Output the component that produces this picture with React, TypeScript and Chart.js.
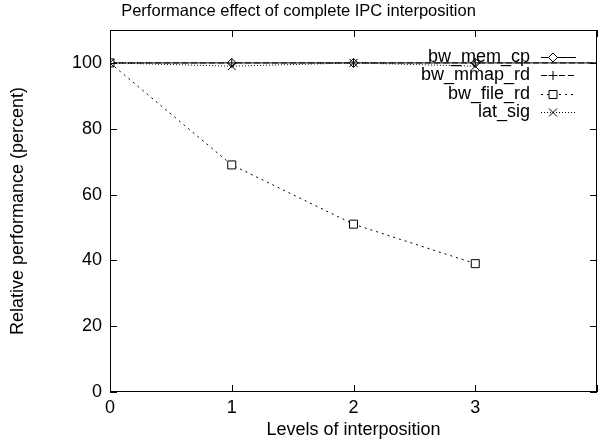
import React, { useEffect, useRef } from "react";
import { Chart, registerables } from "chart.js";

Chart.register(...registerables);

const levels = [0, 1, 2, 3, 4];
const bwMemCp = [100, 100, 100, 100, 100];
const bwMmapRd = [100, 100, 100, 100, 100];
const bwFileRd = [100, 69, 51, 39];
const latSig = [100, 99, 100, 99];
const seriesLabels = ["bw_mem_cp", "bw_mmap_rd", "bw_file_rd", "lat_sig"];
const xTicks = [0, 1, 2, 3];
const yTicks = [0, 20, 40, 60, 80, 100];

const FONT = "'Liberation Sans', Arial, sans-serif";
const FS = 18;
const TFS = 16.5;

type Shape = "diamond" | "plus" | "square" | "cross";
const shapes: Shape[] = ["diamond", "plus", "square", "cross"];
const dashes: number[][] = [[], [6, 3], [2, 4], [1, 2]];

function drawMarker(ctx: CanvasRenderingContext2D, shape: Shape, x: number, y: number) {
  ctx.save();
  ctx.setLineDash([]);
  ctx.strokeStyle = "#000";
  ctx.lineWidth = 1;
  ctx.beginPath();
  if (shape === "diamond") {
    const r = 4.5;
    ctx.moveTo(x, y - r);
    ctx.lineTo(x + r, y);
    ctx.lineTo(x, y + r);
    ctx.lineTo(x - r, y);
    ctx.closePath();
    ctx.fillStyle = "#fff";
    ctx.fill();
  } else if (shape === "plus") {
    const r = 4.5;
    ctx.moveTo(x - r, y);
    ctx.lineTo(x + r, y);
    ctx.moveTo(x, y - r);
    ctx.lineTo(x, y + r);
  } else if (shape === "square") {
    const r = 4;
    ctx.rect(x - r, y - r, 2 * r, 2 * r);
    ctx.fillStyle = "#fff";
    ctx.fill();
  } else {
    const r = 4;
    ctx.moveTo(x - r, y - r);
    ctx.lineTo(x + r, y + r);
    ctx.moveTo(x + r, y - r);
    ctx.lineTo(x - r, y + r);
  }
  ctx.stroke();
  ctx.restore();
}

const framePlugin = {
  id: "frame",
  afterDatasetsDraw(chart: any) {
    const ctx: CanvasRenderingContext2D = chart.ctx;
    const { left, right, top, bottom } = chart.chartArea;
    const xs = chart.scales.x;
    const ys = chart.scales.y;
    chart.data.datasets.forEach((ds: any, i: number) => {
      const meta = chart.getDatasetMeta(i);
      ctx.save();
      ctx.beginPath();
      ctx.rect(left, top, right - left, bottom - top);
      ctx.clip();
      meta.data.forEach((pt: any, j: number) => {
        if (ds.data[j].x > 3) return;
        drawMarker(ctx, shapes[i], pt.x, pt.y);
      });
      ctx.restore();
    });
    ctx.save();
    ctx.strokeStyle = "#000";
    ctx.lineWidth = 1;
    ctx.setLineDash([]);
    ctx.strokeRect(left + 0.5, top + 0.5, right - left - 1, bottom - top - 1);
    const tl = 7;
    ctx.beginPath();
    [...xTicks, 4].forEach((v) => {
      const px = Math.round(xs.getPixelForValue(v)) + 0.5;
      ctx.moveTo(px, bottom);
      ctx.lineTo(px, bottom - tl);
      ctx.moveTo(px, top);
      ctx.lineTo(px, top + tl);
    });
    yTicks.forEach((v) => {
      const py = Math.round(ys.getPixelForValue(v)) + 0.5;
      ctx.moveTo(left, py);
      ctx.lineTo(left + tl, py);
      ctx.moveTo(right, py);
      ctx.lineTo(right - tl, py);
    });
    ctx.stroke();
    ctx.font = `${FS}px ${FONT}`;
    ctx.fillStyle = "#000";
    ctx.textAlign = "right";
    ctx.textBaseline = "middle";
    seriesLabels.forEach((lab, i) => {
      const y = top + 27 + i * 18.3;
      const tx = right - 67;
      ctx.fillText(lab, tx, y);
      ctx.save();
      ctx.setLineDash(dashes[i]);
      ctx.beginPath();
      ctx.moveTo(tx + 11, Math.round(y) + 0.5);
      ctx.lineTo(tx + 46, Math.round(y) + 0.5);
      ctx.stroke();
      ctx.restore();
      drawMarker(ctx, shapes[i], tx + 23, Math.round(y) + 0.5);
    });
    ctx.restore();
  },
};

export default function App() {
  const ref = useRef<HTMLCanvasElement>(null);
  useEffect(() => {
    document.body.style.margin = "0";
    const mk = (arr: number[]) => arr.map((v, i) => ({ x: levels[i], y: v }));
    const all = [bwMemCp, bwMmapRd, bwFileRd, latSig];
    const chart = new Chart(ref.current!, {
      type: "scatter",
      data: {
        datasets: all.map((arr, i) => ({
          label: seriesLabels[i],
          data: mk(arr),
          showLine: true,
          borderColor: "#000",
          borderWidth: 1,
          borderDash: dashes[i],
          pointRadius: 0,
          tension: 0,
        })),
      },
      options: {
        animation: false,
        responsive: false,
        devicePixelRatio: 1,
        layout: { padding: { left: 0, right: 1, top: 0, bottom: 0 } },
        plugins: {
          legend: { display: false },
          tooltip: { enabled: false },
          title: {
            display: true,
            text: "Performance effect of complete IPC interposition",
            color: "#000",
            font: { family: FONT, size: TFS, weight: "normal" as any, lineHeight: 1.2 },
            padding: { top: 2, bottom: 8.2 },
          },
        },
        scales: {
          x: {
            type: "linear",
            min: 0,
            max: 4,
            grid: { display: false, drawTicks: false },
            border: { display: false },
            afterBuildTicks: (s: any) => {
              s.ticks = xTicks.map((v) => ({ value: v }));
            },
            afterFit: (s: any) => {
              s.height = 53;
            },
            ticks: {
              color: "#000",
              padding: 5,
              maxRotation: 0,
              font: { family: FONT, size: FS },
            },
            title: {
              display: true,
              text: "Levels of interposition",
              color: "#000",
              font: { family: FONT, size: FS },
              padding: { top: 0, bottom: 4 },
            },
          },
          y: {
            type: "linear",
            min: 0,
            max: 110,
            grid: { display: false, drawTicks: false },
            border: { display: false },
            afterBuildTicks: (s: any) => {
              s.ticks = yTicks.map((v) => ({ value: v }));
            },
            afterFit: (s: any) => {
              s.width = 110;
            },
            ticks: {
              color: "#000",
              padding: 8,
              font: { family: FONT, size: FS },
            },
            title: {
              display: true,
              text: "Relative performance (percent)",
              color: "#000",
              font: { family: FONT, size: FS },
              padding: { top: 7, bottom: 0 },
            },
          },
        },
      },
      plugins: [framePlugin],
    });
    return () => chart.destroy();
  }, []);
  return (
    <div style={{ width: 598, height: 445 }}>
      <canvas ref={ref} width={598} height={445} style={{ width: 598, height: 445 }} />
    </div>
  );
}
